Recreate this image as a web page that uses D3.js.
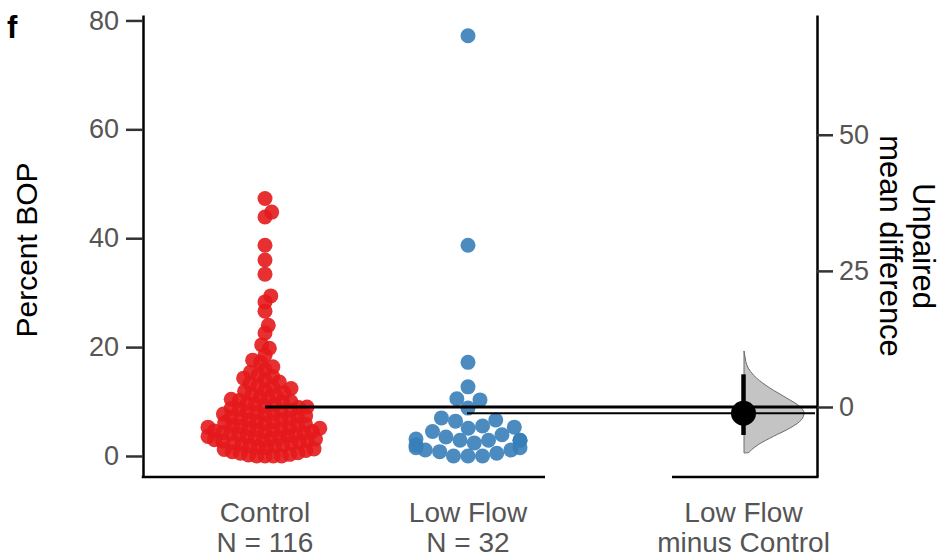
<!DOCTYPE html>
<html>
<head>
<meta charset="utf-8">
<script src="https://cdn.jsdelivr.net/npm/d3@7"></script>
<style>
  html, body { margin: 0; padding: 0; background: #fff; }
  svg { display: block; font-family: "Liberation Sans", Arial, Helvetica, sans-serif; }
</style>
</head>
<body>
<svg id="chart" width="947" height="559"></svg>
<script>
// ---------------- data ----------------
const groups = ["Control", "Low Flow"];
const groupN = [116, 32];
const controlValues = [
  47.3, 44.8, 43.9, 38.7, 36.0, 33.4, 29.4, 28.3, 26.6, 24.0, 22.6, 20.4, 19.8, 18.5,
  17.6, 17.2, 16.4, 15.9, 15.4, 14.9, 14.6,
  14.3, 14.0, 13.6, 13.3, 12.9, 12.7, 12.4, 12.1,
  11.9, 11.6, 11.3, 11.1, 10.8, 10.6, 10.4, 10.2, 10.0,
  9.9, 9.7, 9.5, 9.4, 9.2, 9.0, 8.9, 8.7, 8.6, 8.4, 8.3, 8.1, 8.0,
  7.9, 7.7, 7.6, 7.4, 7.3, 7.1, 7.0, 6.9, 6.7, 6.6, 6.4, 6.3, 6.1, 6.0, 5.8, 5.7, 5.6, 5.4, 5.3, 5.2, 5.1, 5.0,
  4.9, 4.8, 4.7, 4.6, 4.5, 4.4, 4.3, 4.2, 4.1, 4.0, 3.9, 3.7, 3.6, 3.5, 3.4, 3.3, 3.2, 3.1, 3.0,
  2.9, 2.8, 2.7, 2.5, 2.4, 2.3, 2.2, 2.0, 1.9, 1.8, 1.6, 1.5, 1.3, 1.2, 1.0, 0.8, 0.6, 0.5, 0.3, 0.2,
  0.0, 0.0, 0.0, 0.0
];
const lowFlowValues = [
  77.2, 38.7, 17.2, 12.7, 10.5, 10.3, 8.8, 7.0, 6.6, 6.4, 5.5, 5.3, 5.1, 4.5, 3.9, 3.5,
  3.1, 2.9, 2.9, 2.9, 2.9, 2.4, 2.0, 1.5, 1.5, 1.1, 1.1, 0.8, 0.5, 0.0, 0.0, 0.0
];
// group means and effect size summary (mean difference with 95% CI)
const groupMeans = [9.0, 7.85];
const meanDiff = -1.15;
const diffCI = [-5.15, 6.0];
// bootstrap distribution outline (effect value, relative density)
const bootEffect  = [10.3, 9.0, 7.75, 5.3, 3.5, 1.65, 0.1, -1.1, -2.3, -3.85, -5.4, -6.9, -7.8, -8.4, -8.45];
const bootDensity = [0.0, 0.02, 0.045, 0.21, 0.43, 0.71, 0.93, 1.0, 0.96, 0.77, 0.49, 0.24, 0.13, 0.07, 0.0];
const leftTicks = [0, 20, 40, 60, 80];
const rightTicks = [0, 25, 50];
const effectLabel = ["Low Flow", "minus Control"];
const colors = ["#E41A1C", "#377EB8"];

// ---------------- layout ----------------
const svg = d3.select("#chart");
const topY = 15, bottomY = 477;
const leftAxisX = 143, rightAxisX = 817;
const y = d3.scaleLinear().domain([-3.86, 81.0]).range([bottomY, topY]);
const yEff = d3.scaleLinear()
  .domain([-3.86 - groupMeans[0], 81.0 - groupMeans[0]]).range([bottomY, topY]);
const x = d3.scaleOrdinal().domain(["Control", "Low Flow", "effect"]).range([265, 468, 743.5]);
const violinW = d3.scaleLinear().domain([0, 1]).range([0, 60]);

// swarm layout (sorted first-fit, points beyond the half-width go to a gutter)
function swarmOffsets(vals, yScale, d, halfWidth) {
  const idx = vals.map((v, i) => i).sort((a, b) => vals[a] - vals[b]);
  const placed = [];
  const out = new Array(vals.length);
  for (const i of idx) {
    const yy = yScale(vals[i]);
    const near = placed.filter(p => Math.abs(p.y - yy) < d);
    const cands = [0];
    for (const p of near) {
      const dx = Math.sqrt(d * d - (p.y - yy) ** 2);
      cands.push(p.x + dx, p.x - dx);
    }
    cands.sort((a, b) => Math.abs(a) - Math.abs(b));
    let xx = 0;
    for (const c of cands) {
      if (near.every(p => (p.x - c) ** 2 + (p.y - yy) ** 2 >= d * d - 1e-6)) { xx = c; break; }
    }
    placed.push({ x: xx, y: yy });
    out[i] = xx;
  }
  return out.map(o => Math.max(-halfWidth, Math.min(halfWidth, o)));
}

// ---------------- swarms ----------------
const series = [controlValues, lowFlowValues];
const collide = [8.3, 14.5];
const gutter = [57, 52];
series.forEach((vals, gi) => {
  const offs = swarmOffsets(vals, y, collide[gi], gutter[gi]);
  svg.append("g").selectAll("circle").data(vals).join("circle")
    .attr("cx", (d, i) => x(groups[gi]) + offs[i])
    .attr("cy", d => y(d))
    .attr("r", 7.5)
    .attr("fill", colors[gi])
    .attr("fill-opacity", 0.9);
});

// ---------------- bootstrap violin ----------------
const violin = d3.area()
  .y(d => yEff(d[0]))
  .x0(() => x("effect") + 0.5)
  .x1(d => x("effect") + 0.5 + violinW(d[1]))
  .curve(d3.curveMonotoneY);
const bootPts = bootEffect.map((e, i) => [e, bootDensity[i]]).sort((a, b) => a[0] - b[0]);
svg.append("path").datum(bootPts)
  .attr("d", violin)
  .attr("fill", "#c4c4c4")
  .attr("stroke", "#6b6b6b")
  .attr("stroke-width", 1);

// ---------------- mean lines ----------------
svg.append("line")
  .attr("x1", x("Control")).attr("x2", rightAxisX)
  .attr("y1", y(groupMeans[0])).attr("y2", y(groupMeans[0]))
  .attr("stroke", "#000").attr("stroke-width", 3);
svg.append("line")
  .attr("x1", x("Low Flow") - 1).attr("x2", rightAxisX - 2)
  .attr("y1", y(groupMeans[1])).attr("y2", y(groupMeans[1]))
  .attr("stroke", "#000").attr("stroke-width", 2);

// ---------------- effect size ----------------
svg.append("line")
  .attr("x1", x("effect")).attr("x2", x("effect"))
  .attr("y1", yEff(diffCI[1])).attr("y2", yEff(diffCI[0]))
  .attr("stroke", "#000").attr("stroke-width", 4.5);
svg.append("circle")
  .attr("cx", x("effect")).attr("cy", yEff(meanDiff)).attr("r", 12.5)
  .attr("fill", "#000");

// ---------------- axes ----------------
const tickColor = "#333";
const labelColor = "#555";
const leftAxis = svg.append("g").attr("transform", `translate(${leftAxisX},0)`)
  .call(d3.axisLeft(y).tickValues(leftTicks).tickSize(17).tickSizeOuter(0).tickPadding(7));
const rightAxis = svg.append("g").attr("transform", `translate(${rightAxisX},0)`)
  .call(d3.axisRight(yEff).tickValues(rightTicks).tickSize(16).tickSizeOuter(0).tickPadding(6));
[leftAxis, rightAxis].forEach(g => {
  g.select(".domain").attr("stroke", "#000").attr("stroke-width", 2.5);
  g.selectAll(".tick line").attr("stroke", tickColor).attr("stroke-width", 2.5);
  g.selectAll(".tick text").attr("fill", labelColor)
    .style("font-size", "27px").style("font-family", "Liberation Sans, Arial, sans-serif");
});

// bottom spines
svg.append("line").attr("x1", leftAxisX - 1.25).attr("x2", 545)
  .attr("y1", bottomY).attr("y2", bottomY).attr("stroke", "#000").attr("stroke-width", 2.5);
svg.append("line").attr("x1", 672).attr("x2", rightAxisX + 1.25)
  .attr("y1", bottomY).attr("y2", bottomY).attr("stroke", "#000").attr("stroke-width", 2.5);

// category labels
groups.forEach((g, i) => {
  const t = svg.append("text").attr("x", x(g)).attr("text-anchor", "middle")
    .attr("fill", labelColor).style("font-size", "28px");
  t.append("tspan").attr("x", x(g)).attr("y", 522).text(g);
  t.append("tspan").attr("x", x(g)).attr("y", 552).text(`N = ${groupN[i]}`);
});
const te = svg.append("text").attr("text-anchor", "middle")
  .attr("fill", labelColor).style("font-size", "28px");
effectLabel.forEach((l, i) => {
  te.append("tspan").attr("x", x("effect")).attr("y", 522 + i * 30).text(l);
});

// axis titles
svg.append("text")
  .attr("transform", "translate(37,250) rotate(-90)")
  .attr("text-anchor", "middle").attr("fill", "#000")
  .style("font-size", "30px").text("Percent BOP");
const rt = svg.append("text")
  .attr("transform", "translate(913,246) rotate(90)")
  .attr("text-anchor", "middle").attr("fill", "#000")
  .style("font-size", "31px");
rt.append("tspan").attr("x", 0).attr("y", 0).text("Unpaired");
rt.append("tspan").attr("x", 0).attr("y", 33).text("mean difference");

// panel letter
svg.append("text").attr("x", 7).attr("y", 38)
  .attr("fill", "#000").style("font-size", "31px").style("font-weight", "bold").text("f");
</script>
</body>
</html>
